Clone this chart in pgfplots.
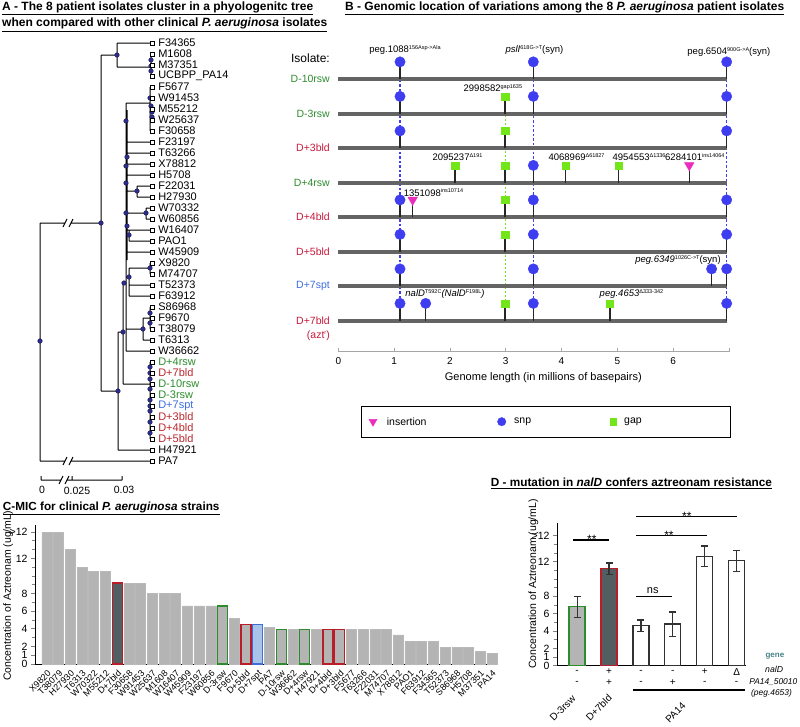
\documentclass[border=0pt]{standalone}
\usepackage{fontspec}
\setmainfont{Liberation Sans}
\usepackage{graphicx}
\usepackage{pgfplots}
\pgfplotsset{compat=1.18}

\definecolor{dgreen}{RGB}{45,140,45}
\definecolor{dred}{RGB}{200,25,60}
\definecolor{tred}{RGB}{185,40,45}
\definecolor{dblue}{RGB}{60,110,220}
\definecolor{snpblue}{RGB}{62,62,240}
\definecolor{gapgreen}{RGB}{115,230,25}
\definecolor{insmag}{RGB}{235,45,190}
\definecolor{bargray}{RGB}{180,180,180}
\definecolor{slate}{RGB}{82,94,98}
\definecolor{barred}{RGB}{185,30,40}
\definecolor{spotfill}{RGB}{170,195,232}
\definecolor{navy}{RGB}{45,45,140}
\definecolor{genome}{RGB}{100,100,100}
\definecolor{teal}{RGB}{70,130,135}
\definecolor{errc}{RGB}{50,50,50}

\newcommand{\fs}[1]{\fontsize{#1}{#1}\selectfont}
\newcommand{\sps}[1]{\raisebox{3.6pt}{\fs{5.5}#1}}

\begin{document}
\begin{tikzpicture}
\path[use as bounding box] (0,0) rectangle (800pt,726pt);
%================ canvas: titles and panel A tree
\begin{axis}[at={(0pt,0pt)}, anchor=south west, scale only axis, width=800pt, height=726pt,
  xmin=0, xmax=800, ymin=0, ymax=726, y dir=reverse, hide axis, clip=false]
\node[anchor=base west, inner sep=0pt] at (axis cs:2,10) {\resizebox{311pt}{!}{\bfseries\underline{A - The 8 patient isolates cluster in a phyologenitc tree}}};
\node[anchor=base west, inner sep=0pt] at (axis cs:2,26.7) {\resizebox{325pt}{!}{\bfseries\underline{when compared with other clinical \textit{P. aeruginosa} isolates}}};
\node[anchor=base west, inner sep=0pt] at (axis cs:345,10) {\resizebox{439pt}{!}{\bfseries\underline{B - Genomic location of variations among the 8 \textit{P. aeruginosa} patient isolates}}};
\node[anchor=base west, inner sep=0pt] at (axis cs:2.7,510) {\resizebox{216.6pt}{!}{\bfseries\underline{C-MIC for clinical \textit{P. aeruginosa} strains}}};
\node[anchor=base west, inner sep=0pt] at (axis cs:490.7,486.7) {\resizebox{281pt}{!}{\bfseries\underline{D - mutation in \textit{nalD} confers aztreonam resistance}}};

% tree branches
\addplot[black, line width=1pt, unbounded coords=jump, forget plot] coordinates {
(40,223) (40,461) (0,nan)
(40,223) (65,223) (0,nan) (71,223) (101,223) (0,nan)
(40,461) (65,461) (0,nan) (71,461) (150,461) (0,nan)
(63,227) (67,219) (0,nan) (69,227) (73,219) (0,nan)
(63,465) (67,457) (0,nan) (69,465) (73,457) (0,nan)
(101,55) (101,391) (0,nan)
(101,55) (117,55) (0,nan)
(117,43) (117,67) (0,nan)
(117,43) (150,43) (0,nan)
(117,67) (151,67) (0,nan)
(151,54) (151,76) (0,nan)
(101,391) (118,391) (0,nan)
(118,332) (118,450) (0,nan)
(118,450) (150,450) (0,nan)
(118,332) (123,332) (0,nan)
(123,283) (123,384) (0,nan)
(123,384) (150,384) (0,nan)
(150,362) (150,439) (0,nan)
(123,283) (126,283) (0,nan)
(126,103) (126,351) (0,nan)
(127,110) (127,260) (0,nan)
(126,103) (150,103) (0,nan)
(150,87) (150,131) (0,nan)
(126,142) (150,142) (0,nan)
(126,153) (150,153) (0,nan)
(126,164) (150,164) (0,nan)
(126,175) (150,175) (0,nan)
(126,191) (137,191) (0,nan)
(137,186) (137,197) (0,nan)
(137,186) (150,186) (0,nan)
(137,197) (150,197) (0,nan)
(126,213) (146,213) (0,nan)
(146,208) (146,219) (0,nan)
(146,208) (150,208) (0,nan)
(146,219) (150,219) (0,nan)
(126,230) (150,230) (0,nan)
(129,230) (129,241) (0,nan)
(129,241) (150,241) (0,nan)
(126,252) (150,252) (0,nan)
(126,277) (129,277) (0,nan)
(129,268) (129,296) (0,nan)
(129,268) (150,268) (0,nan)
(150,263) (150,274) (0,nan)
(129,285) (150,285) (0,nan)
(129,296) (150,296) (0,nan)
(126,329) (143,329) (0,nan)
(143,318) (143,340) (0,nan)
(143,318) (150,318) (0,nan)
(150,307) (150,329) (0,nan)
(143,340) (150,340) (0,nan)
(126,351) (150,351) (0,nan)
(41,480) (61,480) (0,nan) (59,484) (63,476) (0,nan) (65,484) (69,476) (0,nan) (67,480) (122,480) (0,nan)
(41,476) (41,480) (0,nan) (72,476) (72,480) (0,nan) (122,476) (122,480)
};
% tree internal nodes
\addplot[only marks, mark=*, mark size=2.3pt, mark options={fill=navy, draw=navy!60!black, line width=0.4pt}, forget plot] coordinates {
(40,341) (101,223) (117,55) (118,391) (123,332) (124,283) (126,121) (127,157) (126,166) (126,183)
(137,191) (126,213) (146,213) (127,226) (129,235) (129,277) (150,268) (143,329) (150,313) (150,323)
(150,98) (151,106) (152,112) (152,117) (151,60) (151,66) (151,71)
(150,367) (150,373) (150,379) (150,389) (150,400) (150,406) (150,411) (150,422) (150,433)
};
% leaves
\addplot[only marks, mark=square*, mark size=1.8pt, mark options={fill=white, draw=black, line width=0.6pt},
  point meta=explicit symbolic, nodes near coords, nodes near coords align=horizontal,
  every node near coord/.append style={anchor=west, inner sep=0pt, xshift=6pt, font=\fs{11}, text=black}, forget plot] coordinates {
(152,43) [F34365] (152,54) [M1608] (152,65) [M37351] (152,76) [UCBPP\_PA14]
(152,87) [F5677] (152,98) [W91453] (152,109) [M55212] (152,120) [W25637] (152,131) [F30658]
(152,142) [F23197] (152,153) [T63266] (152,164) [X78812] (152,175) [H5708] (152,186) [F22031]
(152,197) [H27930] (152,208) [W70332] (152,219) [W60856] (152,230) [W16407] (152,241) [PAO1]
(152,252) [W45909] (152,263) [X9820] (152,274) [M74707] (152,285) [T52373] (152,296) [F63912]
(152,307) [S86968] (152,318) [F9670] (152,329) [T38079] (152,340) [T6313] (152,351) [W36662]
(152,450) [H47921] (152,461) [PA7]
};
\addplot[only marks, mark=square*, mark size=1.8pt, mark options={fill=white, draw=black, line width=0.6pt},
  point meta=explicit symbolic, nodes near coords, nodes near coords align=horizontal,
  every node near coord/.append style={anchor=west, inner sep=0pt, xshift=6pt, font=\fs{11}, text=dgreen}, forget plot] coordinates {
(152,362) [D+4rsw] (152,384) [D-10rsw] (152,395) [D-3rsw]
};
\addplot[only marks, mark=square*, mark size=1.8pt, mark options={fill=white, draw=black, line width=0.6pt},
  point meta=explicit symbolic, nodes near coords, nodes near coords align=horizontal,
  every node near coord/.append style={anchor=west, inner sep=0pt, xshift=6pt, font=\fs{11}, text=tred}, forget plot] coordinates {
(152,373) [D+7bld] (152,417) [D+3bld] (152,428) [D+4bld] (152,439) [D+5bld]
};
\addplot[only marks, mark=square*, mark size=1.8pt, mark options={fill=white, draw=black, line width=0.6pt},
  point meta=explicit symbolic, nodes near coords, nodes near coords align=horizontal,
  every node near coord/.append style={anchor=west, inner sep=0pt, xshift=6pt, font=\fs{11}, text=dblue}, forget plot] coordinates {
(152,406) [D+7spt]
};
% scale bar labels
\node[font=\fs{10.5}] at (axis cs:42,490) {0};
\node[font=\fs{10.5}] at (axis cs:77,491) {0.025};
\node[font=\fs{10.5}] at (axis cs:124,490) {0.03};
\end{axis}

%================ panel B
\begin{axis}[at={(338.3pt,374.3pt)}, anchor=south west, scale only axis, width=390.6pt, height=311.9pt,
  xmin=0, xmax=7, ymin=0.1, ymax=9.14, clip=false,
  axis x line*=bottom, axis y line=none, x axis line style={-, color=gray!70, line width=0.8pt},
  xtick={0,...,7}, xticklabels={0,1,2,3,4,5,6,{}}, tick align=inside, major tick length=3.5pt,
  xtick style={gray!70, line width=0.8pt}, x tick label style={font=\fs{10}, yshift=-2pt},
  xlabel={Genome length (in millions of basepairs)}, xlabel style={font=\fs{11}, at={(axis description cs:0.525,-0.083)}, anchor=center},
]
% dashed guide lines
\addplot[snpblue, line width=1.2pt, dash pattern=on 2.5pt off 2pt] coordinates {(1.106,1) (1.106,8.5)};
\addplot[snpblue, line width=1.2pt, dash pattern=on 2.5pt off 2pt] coordinates {(3.495,1) (3.495,8.5)};
\addplot[snpblue, line width=1.2pt, dash pattern=on 2.5pt off 2pt] coordinates {(6.96,1) (6.96,8.5)};
\addplot[gapgreen, line width=0.7pt, dash pattern=on 2pt off 2pt] coordinates {(2.99,1) (2.99,7.5)};
% genome bars
\addplot[genome, line width=3.8pt, unbounded coords=jump] coordinates {
(0,1) (6.97,1) (0,nan) (0,2) (6.97,2) (0,nan) (0,3) (6.97,3) (0,nan) (0,4) (6.97,4) (0,nan)
(0,5) (6.97,5) (0,nan) (0,6) (6.97,6) (0,nan) (0,7) (6.97,7) (0,nan) (0,8) (6.97,8)};
% stems
\addplot[black!85, line width=1.5pt, unbounded coords=jump] coordinates {
(1.106,8) (1.106,8.5) (0,nan) (3.495,8) (3.495,8.5) (0,nan) (6.96,8) (6.96,8.5) (0,nan)
(1.106,7) (1.106,7.5) (0,nan) (2.99,7) (2.99,7.5) (0,nan) (3.495,7) (3.495,7.5) (0,nan) (6.96,7) (6.96,7.5) (0,nan)
(1.106,6) (1.106,6.5) (0,nan) (2.99,6) (2.99,6.5) (0,nan) (6.96,6) (6.96,6.5) (0,nan)
(2.095,5) (2.095,5.5) (0,nan) (2.99,5) (2.99,5.5) (0,nan) (3.495,5) (3.495,5.5) (0,nan) (4.075,5) (4.075,5.5) (0,nan) (5.02,5) (5.02,5.5) (0,nan) (6.29,5) (6.29,5.45) (0,nan)
(1.106,4) (1.106,4.5) (0,nan) (1.333,4) (1.333,4.45) (0,nan) (2.99,4) (2.99,4.5) (0,nan) (3.495,4) (3.495,4.5) (0,nan) (6.96,4) (6.96,4.5) (0,nan)
(1.106,3) (1.106,3.5) (0,nan) (2.99,3) (2.99,3.5) (0,nan) (3.495,3) (3.495,3.5) (0,nan) (6.96,3) (6.96,3.5) (0,nan)
(1.106,2) (1.106,2.5) (0,nan) (3.495,2) (3.495,2.5) (0,nan) (6.69,2) (6.69,2.5) (0,nan) (6.96,2) (6.96,2.5) (0,nan)
(1.106,1) (1.106,1.5) (0,nan) (1.566,1) (1.566,1.5) (0,nan) (2.99,1) (2.99,1.5) (0,nan) (3.495,1) (3.495,1.5) (0,nan) (4.87,1) (4.87,1.5) (0,nan) (6.96,1) (6.96,1.5)
};
% snp
\addplot[only marks, mark=*, mark size=5.2pt, color=snpblue] coordinates {
(1.106,8.5) (3.495,8.5) (6.96,8.5)
(1.106,7.5) (3.495,7.5) (6.96,7.5)
(1.106,6.5) (6.96,6.5)
(3.495,5.5)
(1.106,4.5) (3.495,4.5) (6.96,4.5)
(1.106,3.5) (3.495,3.5) (6.96,3.5)
(1.106,2.5) (3.495,2.5) (6.69,2.5) (6.96,2.5)
(1.106,1.5) (1.566,1.5) (3.495,1.5) (6.96,1.5)
};
% gap
\addplot[only marks, mark=square*, mark size=3.6pt, color=gapgreen] coordinates {
(2.99,7.5) (2.99,6.5) (2.095,5.5) (2.99,5.5) (4.075,5.5) (5.02,5.5) (2.99,4.5) (2.99,3.5) (2.99,1.5) (4.87,1.5)
};
% insertion
\addplot[only marks, mark=triangle*, mark size=5.5pt, color=insmag, mark options={rotate=180}] coordinates {
(6.29,5.5) (1.333,4.5)
};
% legend (markers drawn in axis coordinates)
\draw[line width=0.8pt] (axis cs:0.407,-1.493) rectangle (axis cs:7.032,-2.380);
\addplot[only marks, mark=triangle*, mark size=4.6pt, color=insmag, mark options={rotate=180}] coordinates {(0.622,-1.928)};
\addplot[only marks, mark=*, mark size=4.2pt, color=snpblue] coordinates {(2.928,-1.928)};
\addplot[only marks, mark=square*, mark size=3.1pt, color=gapgreen] coordinates {(4.928,-1.928)};
\node[anchor=west, font=\fs{10.5}, inner sep=0pt] at (axis cs:0.867,-1.928) {insertion};
\node[anchor=west, font=\fs{10.5}, inner sep=0pt] at (axis cs:3.149,-1.928) {snp};
\node[anchor=west, font=\fs{10.5}, inner sep=0pt] at (axis cs:5.12,-1.928) {gap};
% annotations
\node[font=\fs{9.5}] at (axis cs:1.195,8.846) {peg.1088\sps{156Asp->Ala}};
\node[font=\fs{9.5}] at (axis cs:3.515,8.846) {\textit{pslI}\sps{618G->T}(syn)};
\node[font=\fs{9.5}] at (axis cs:7.0,8.79) {peg.6504\sps{900G->A}(syn)};
\node[font=\fs{9.5}] at (axis cs:2.77,7.745) {2998582\sps{gap1635}};
\node[font=\fs{9.5}] at (axis cs:2.136,5.745) {2095237\sps{Δ191}};
\node[font=\fs{9.5}] at (axis cs:4.27,5.745) {4068969\sps{Δ61827}};
\node[font=\fs{9.5}] at (axis cs:5.39,5.745) {4954553\sps{Δ1336}};
\node[font=\fs{9.5}] at (axis cs:6.39,5.745) {6284101\sps{ins14064}};
\node[font=\fs{9.5}] at (axis cs:1.706,4.71) {1351098\sps{ins10714}};
\node[font=\fs{9.5}] at (axis cs:6.088,2.76) {\textit{peg.6349}\sps{1026C->T}(syn)};
\node[font=\fs{9.5}] at (axis cs:1.912,1.774) {\textit{nalD}\sps{T592C}\textit{(NalD}\sps{F198L}\textit{)}};
\node[font=\fs{9.5}] at (axis cs:5.254,1.774) {\textit{peg.4653}\sps{Δ333-342}};
% row labels
\node[anchor=east, font=\fs{12}, inner sep=0pt] at (axis cs:-0.149,8.61) {Isolate:};
\node[anchor=east, font=\fs{10.5}, inner sep=0pt, text=dgreen] at (axis cs:-0.149,8) {D-10rsw};
\node[anchor=east, font=\fs{10.5}, inner sep=0pt, text=dgreen] at (axis cs:-0.149,7) {D-3rsw};
\node[anchor=east, font=\fs{10.5}, inner sep=0pt, text=dred] at (axis cs:-0.149,6) {D+3bld};
\node[anchor=east, font=\fs{10.5}, inner sep=0pt, text=dgreen] at (axis cs:-0.149,5) {D+4rsw};
\node[anchor=east, font=\fs{10.5}, inner sep=0pt, text=dred] at (axis cs:-0.149,4) {D+4bld};
\node[anchor=east, font=\fs{10.5}, inner sep=0pt, text=dred] at (axis cs:-0.149,3) {D+5bld};
\node[anchor=east, font=\fs{10.5}, inner sep=0pt, text=dblue] at (axis cs:-0.149,2) {D+7spt};
\node[anchor=east, font=\fs{10.5}, inner sep=0pt, text=dred] at (axis cs:-0.149,1) {D+7bld};
\node[anchor=east, font=\fs{10.5}, inner sep=0pt, text=dred] at (axis cs:-0.149,0.56) {(azt\sps{r})};
\end{axis}

%================ panel C
\begin{axis}[at={(35pt,62pt)}, anchor=south west, scale only axis, width=462.8pt, height=139pt,
  xmin=-1.02, xmax=38.5, ymin=0, ymax=15.8, clip=false,
  axis x line*=bottom, axis y line*=left, axis line style={-, line width=0.9pt},
  ybar, bar width=10pt, bar shift=0pt,
  xtick={0,...,38},
  xticklabels={X9820,T38079,H27930,T6313,W70322,M55212,D+7bld,F30658,W91453,W25637,M1608,W16407,W45909,F23197,W60856,D-3rsw,F9670,D+5bld,D+7spt,PA7,D-10rsw,W36662,D+4rsw,H47921,D+4bld,D+3bld,F5677,T63266,F22031,M74707,X78812,PAO1,F63912,F34365,T52373,S86968,H5708,M37351,PA14},
  x tick label style={rotate=45, anchor=north east, font=\fs{9}, inner sep=1pt},
  xtick style={draw=none},
  ytick={0,1,2,4,6,8,12,15}, yticklabels={0,1,2,4,6,8,12,{>12}}, minor ytick={3,5,7,9,10,11,13,14},
  tick align=outside, major tick length=4pt, minor tick length=3pt, ytick style={line width=0.7pt},
  minor tick style={line width=0.6pt},
  y tick label style={font=\fs{10.5}}, /pgf/number format/assume math mode=true,
  ylabel={Concentration of Aztreonam (ug/mL)}, ylabel style={font=\fs{10.5}, at={(axis description cs:-0.058,0.489)}, anchor=center},
]
\addplot[fill=bargray, draw=gray!55, line width=0.6pt] coordinates {
(0,15) (1,15) (2,13) (3,11) (4,10.5) (5,10.5) (7,9.2) (8,9.2) (9,8) (10,8) (11,8) (12,6.6) (13,6.6) (14,6.6)
(16,5.2) (19,4.2) (21,3.9) (23,3.9) (26,3.9) (27,3.9) (28,3.9) (29,3.9) (30,3.3) (31,2.6) (32,2.6) (33,2.6)
(34,1.9) (35,1.9) (36,1.9) (37,1.4) (38,1.2)};
\addplot[fill=slate, draw=barred, line width=1.3pt] coordinates {(6,9.2)};
\addplot[fill=bargray, draw=dgreen, line width=1.3pt] coordinates {(15,6.6) (20,3.9) (22,3.9)};
\addplot[fill=bargray, draw=barred, line width=1.3pt] coordinates {(17,4.5) (24,3.9) (25,3.9)};
\addplot[fill=spotfill, draw=dblue, line width=1.3pt] coordinates {(18,4.5)};
\end{axis}

%================ panel D
\begin{axis}[at={(557pt,60.3pt)}, anchor=south west, scale only axis, width=189.2pt, height=143.1pt,
  xmin=-0.63, xmax=5.3, ymin=0, ymax=16.5, clip=false,
  axis x line*=bottom, axis y line*=left, axis line style={-, line width=0.9pt},
  ybar, bar width=16pt, bar shift=0pt,
  xtick=\empty,
  ytick={0,1,2,4,6,8,12,15}, yticklabels={0,1,2,4,6,8,12,{>12}}, minor ytick={3,5,7,9,10,11,13,14},
  tick align=outside, major tick length=4pt, minor tick length=3pt, ytick style={line width=0.7pt},
  minor tick style={line width=0.6pt},
  y tick label style={font=\fs{10.5}}, /pgf/number format/assume math mode=true,
  ylabel={Concentration of Aztreonam (ug/mL)}, ylabel style={font=\fs{10.5}, at={(axis description cs:-0.125,0.571)}, anchor=center},
  error bars/error bar style={errc, line width=1.2pt},
  error bars/error mark options={errc, rotate=90, mark size=3.5pt, line width=1.2pt},
]
\addplot[fill=bargray, draw=dgreen, line width=1.3pt, error bars/.cd, y dir=both, y explicit] coordinates {(0,6.8) +- (0,1.2)};
\addplot[fill=slate, draw=barred, line width=1.3pt, error bars/.cd, y dir=both, y explicit] coordinates {(1,11.2) +- (0,0.65)};
\addplot[fill=white, draw=errc, line width=1.3pt, error bars/.cd, y dir=both, y explicit] coordinates {
(2,4.6) +- (0,0.67) (3,4.8) +- (0,1.4) (4,12.6) +- (0,1.2) (5,12.1) +- (0,1.2)};
% significance
\draw[line width=1.2pt] (axis cs:-0.116,14.5) -- (axis cs:1.01,14.5);
\draw[line width=1.2pt] (axis cs:1.85,15.0) -- (axis cs:4.07,15.0);
\draw[line width=1.2pt] (axis cs:1.85,17.19) -- (axis cs:5.0,17.19);
\draw[line width=1.2pt] (axis cs:1.85,7.96) -- (axis cs:2.97,7.96);
\node[anchor=base, font=\fs{12}, inner sep=0pt] at (axis cs:0.46,14.1) {**};
\node[anchor=base, font=\fs{12}, inner sep=0pt] at (axis cs:2.88,14.6) {**};
\node[anchor=base, font=\fs{12}, inner sep=0pt] at (axis cs:3.44,16.8) {**};
\node[font=\fs{11}] at (axis cs:2.37,8.7) {ns};
% genotype rows
\node[font=\fs{10}] at (axis cs:0,-0.73) {-};
\node[font=\fs{10}] at (axis cs:1,-0.73) {+};
\node[font=\fs{10}] at (axis cs:2,-0.73) {-};
\node[font=\fs{10}] at (axis cs:3,-0.73) {-};
\node[font=\fs{10}] at (axis cs:4,-0.73) {+};
\node[font=\fs{10}] at (axis cs:5,-0.73) {Δ};
\node[font=\fs{10}] at (axis cs:0,-2.0) {-};
\node[font=\fs{10}] at (axis cs:1,-2.0) {+};
\node[font=\fs{10}] at (axis cs:2,-2.0) {-};
\node[font=\fs{10}] at (axis cs:3,-2.0) {+};
\node[font=\fs{10}] at (axis cs:4,-2.0) {-};
\node[font=\fs{10}] at (axis cs:5,-2.0) {-};
\draw[line width=1.2pt] (axis cs:1.75,-2.8) -- (axis cs:5.27,-2.8);
\node[anchor=west, font=\bfseries\fs{8}, text=teal, inner sep=0pt] at (axis cs:5.9,1.15) {gene};
\node[anchor=west, font=\itshape\fs{8.7}, inner sep=0pt] at (axis cs:5.89,-0.38) {nalD};
\node[anchor=west, font=\itshape\fs{8.4}, inner sep=0pt] at (axis cs:5.39,-1.87) {PA14\_50010};
\node[anchor=west, font=\itshape\fs{8.4}, inner sep=0pt] at (axis cs:5.45,-3.15) {(peg.4653)};
\node[rotate=45, anchor=east, font=\fs{10}, inner sep=0pt] at (axis cs:-0.097,-3.6) {D-3rsw};
\node[rotate=45, anchor=east, font=\fs{10}, inner sep=0pt] at (axis cs:1.04,-3.5) {D+7bld};
\node[rotate=45, anchor=east, font=\fs{10}, inner sep=0pt] at (axis cs:3.35,-4.4) {PA14};
\end{axis}
\end{tikzpicture}
\end{document}
